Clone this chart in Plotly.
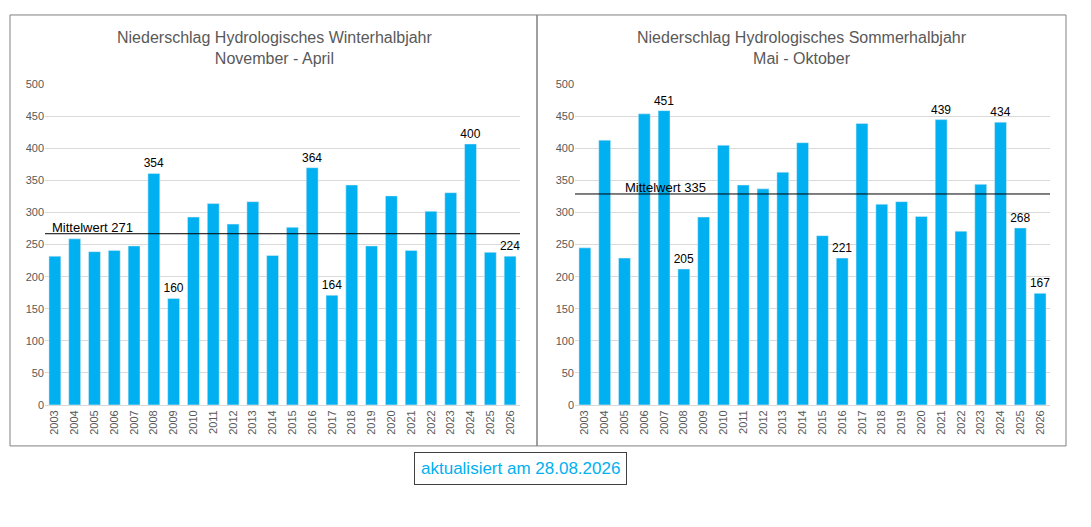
import plotly.graph_objects as go

years = [str(y) for y in range(2003, 2027)]
winter = [232,259,239,241,248,361,166,293,314,282,317,233,277,370,171,343,248,326,241,302,331,407,238,232]
summer = [245,413,229,454,459,212,293,405,343,337,363,409,264,229,439,313,317,294,445,271,344,441,276,174]
winter_labels = {"2008":"354","2009":"160","2016":"364","2017":"164","2024":"400","2026":"224"}
summer_labels = {"2007":"451","2008":"205","2016":"221","2021":"439","2024":"434","2025":"268","2026":"167"}
winter_mean, winter_mean_label = 267, "Mittelwert 271"
summer_mean, summer_mean_label = 329, "Mittelwert 335"

W, H = 1091, 527
def px(x): return (x - 8) / W
def py(y): return 1 - (y - 13) / H

fig = go.Figure()
blue = "#00B0F0"
for xa, ya, vals, labs in [("x", "y", winter, winter_labels), ("x2", "y2", summer, summer_labels)]:
    fig.add_bar(x=years, y=vals, marker_color=blue, width=0.6, xaxis=xa, yaxis=ya,
                text=[labs.get(y, "") for y in years], textposition="outside",
                textfont=dict(size=12, color="black"), cliponaxis=False)

ax = dict(tickangle=-90, tickfont=dict(size=11, color="#595959"), showgrid=False,
          showline=True, linecolor="#d9d9d9", ticks="", type="category")
ay = dict(range=[0, 500], dtick=50, gridcolor="#d9d9d9", tickfont=dict(size=11, color="#595959"),
          zeroline=False, ticks="")
fig.update_layout(
    width=W, height=H, margin=dict(l=0, r=0, t=0, b=0), showlegend=False,
    plot_bgcolor="white", paper_bgcolor="white",
    font=dict(family="Liberation Sans, Arial, sans-serif"),
    uniformtext=dict(minsize=12, mode="show"),
    xaxis=dict(ax, domain=[px(45), px(520)]),
    yaxis=dict(ay, domain=[py(413), py(85)]),
    xaxis2=dict(ax, domain=[px(575), px(1050)], anchor="y2"),
    yaxis2=dict(ay, domain=[py(413), py(85)], anchor="x2"),
)
for xa, ya, m, lab, x0 in [("x", "y", winter_mean, winter_mean_label, 0.01),
                           ("x2", "y2", summer_mean, summer_mean_label, 0.1)]:
    fig.add_shape(type="line", xref=f"{xa} domain", yref=ya, x0=0, x1=1, y0=m, y1=m,
                  line=dict(color="black", width=1))
    fig.add_annotation(xref=f"{xa} domain", yref=ya, x=x0, y=m, text=lab, showarrow=False,
                       xanchor="left", yanchor="bottom", font=dict(size=13, color="black"), yshift=-3)

for x0, x1 in [(10, 537), (537, 1066)]:
    fig.add_shape(type="rect", xref="paper", yref="paper", x0=px(x0), x1=px(x1), y0=py(455), y1=py(14),
                  line=dict(color="#808080", width=1))
for xc, t in [(274, "Niederschlag Hydrologisches Winterhalbjahr<br>November - April"),
              (802, "Niederschlag Hydrologisches Sommerhalbjahr<br>Mai - Oktober")]:
    fig.add_annotation(xref="paper", yref="paper", x=px(xc), y=py(48), text=t, xanchor="center",
                       yanchor="middle", showarrow=False, font=dict(size=16, color="#595959"))
fig.add_annotation(xref="paper", yref="paper", x=px(520), y=py(478), text="aktualisiert am 28.08.2026",
                   xanchor="center", yanchor="middle",
                   showarrow=False, font=dict(size=17, color=blue), bordercolor="#404040", borderwidth=1,
                   borderpad=6, bgcolor="white")
fig.write_html("out.html")
